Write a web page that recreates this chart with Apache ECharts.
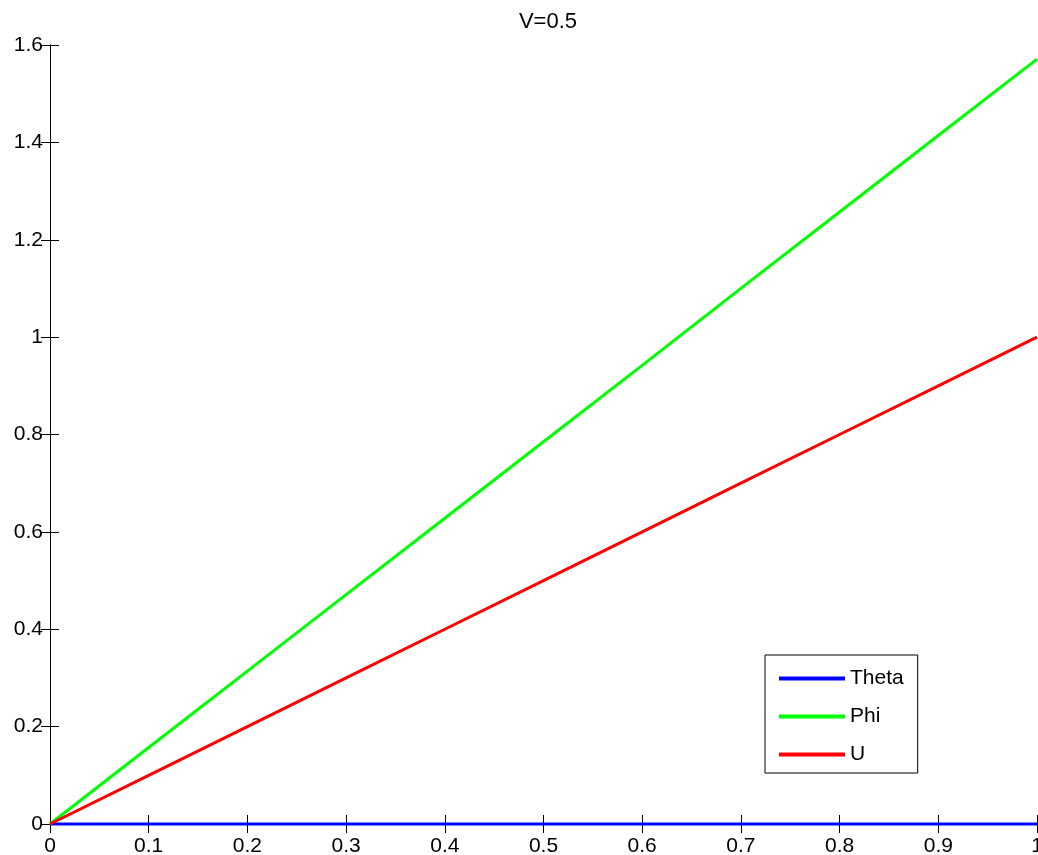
<!DOCTYPE html>
<html>
<head>
<meta charset="utf-8">
<script src="https://cdn.jsdelivr.net/npm/echarts@6/dist/echarts.min.js"></script>
<style>
html,body{margin:0;padding:0;background:#fff;}
#c{width:1038px;height:855px;}
</style>
</head>
<body>
<div id="c"></div>
<script>
var xValues = [0, 0.1, 0.2, 0.3, 0.4, 0.5, 0.6, 0.7, 0.8, 0.9, 1];
var thetaValues = [0, 0, 0, 0, 0, 0, 0, 0, 0, 0, 0];
var phiValues = [0, 0.157, 0.314, 0.471, 0.628, 0.785, 0.942, 1.100, 1.257, 1.414, 1.571];
var uValues = [0, 0.1, 0.2, 0.3, 0.4, 0.5, 0.6, 0.7, 0.8, 0.9, 1.0];
var seriesNames = ['Theta', 'Phi', 'U'];
var titleText = 'V=0.5';

function pairs(ys) { return xValues.map(function (x, i) { return [x, ys[i]]; }); }
var FONT = "'Liberation Sans', Arial, Helvetica, sans-serif";
var chart = echarts.init(document.getElementById('c'), null, {renderer: 'canvas'});

function fmt(v) { return String(Math.round(v * 10) / 10); }

var axisCommon = {
  axisLine: {show: true, lineStyle: {color: '#000', width: 1}},
  axisTick: {show: true, inside: true, length: 9, lineStyle: {color: '#000'}},
  splitLine: {show: false}
};

chart.setOption({
  backgroundColor: '#fff',
  animation: false,
  title: {
    text: titleText,
    left: 543,
    textAlign: 'center',
    top: 6,
    textStyle: {fontFamily: FONT, fontSize: 22, fontWeight: 'normal', color: '#000'}
  },
  grid: {left: 50, right: 1, top: 45, bottom: 31, containLabel: false, outerBoundsMode: 'none'},
  legend: {
    orient: 'vertical',
    left: 765,
    top: 655,
    padding: [13, 14, 8, 14],
    itemGap: 17,
    itemWidth: 66,
    itemHeight: 4,
    icon: 'rect',
    borderColor: '#000',
    borderWidth: 1,
    backgroundColor: '#fff',
    textStyle: {fontFamily: FONT, fontSize: 21, color: '#000'},
    data: seriesNames
  },
  xAxis: [
    Object.assign({
      type: 'value', min: 0, max: 1, interval: 0.1, position: 'bottom',
      axisLabel: {fontFamily: FONT, fontSize: 21, color: '#000', margin: 12, formatter: fmt, showMaxLabel: true, showMinLabel: true}
    }, axisCommon),
    Object.assign({
      type: 'value', min: 0, max: 1, interval: 0.1, position: 'top',
      axisLabel: {show: false}
    }, axisCommon)
  ],
  yAxis: [
    Object.assign({
      type: 'value', min: 0, max: 1.6, interval: 0.2, position: 'left',
      axisLabel: {fontFamily: FONT, fontSize: 21, color: '#000', margin: 7, formatter: fmt}
    }, axisCommon),
    Object.assign({
      type: 'value', min: 0, max: 1.6, interval: 0.2, position: 'right',
      axisLabel: {show: false}
    }, axisCommon)
  ],
  series: [
    {name: seriesNames[0], type: 'line', data: pairs(thetaValues), showSymbol: false, clip: false,
     lineStyle: {color: '#0000ff', width: 3}, itemStyle: {color: '#0000ff'}},
    {name: seriesNames[1], type: 'line', data: pairs(phiValues), showSymbol: false, clip: false,
     lineStyle: {color: '#00ff00', width: 3}, itemStyle: {color: '#00ff00'}},
    {name: seriesNames[2], type: 'line', data: pairs(uValues), showSymbol: false, clip: false,
     lineStyle: {color: '#ff0000', width: 3}, itemStyle: {color: '#ff0000'}}
  ]
});
</script>
</body>
</html>
